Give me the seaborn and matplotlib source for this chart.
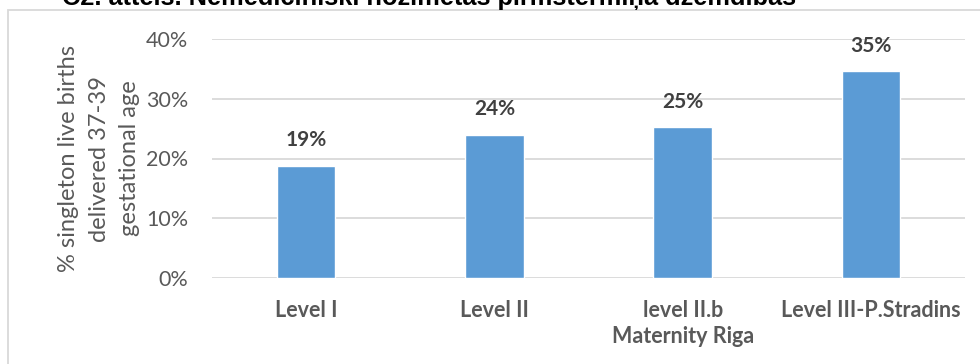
import matplotlib
matplotlib.use("Agg")
import matplotlib.pyplot as plt
import matplotlib.patches as mpatches
from matplotlib.ticker import PercentFormatter
import seaborn as sns
import pandas as pd

# Share of singleton live births delivered at 37-39 weeks, by hospital level
categories = ["Level I", "Level II", "level II.b\nMaternity Riga", "Level III-P.Stradins"]
shares = [18.8, 24.0, 25.2, 34.6]
yticks = [0, 10, 20, 30, 40]

title = "C2. attēls. Nemedicīniski nozīmētas pirmstermiņa dzemdības"
ylabel = "% singleton live births\ndelivered 37-39\ngestational age"

sns.set_theme(style="white")
plt.rcParams["font.family"] = ["Lato", "DejaVu Sans"]

df = pd.DataFrame({"level": categories, "share": shares})

fig = plt.figure(figsize=(9.8, 3.64), dpi=100)
ax = fig.add_axes([212 / 980, 1 - 278 / 364, (965 - 212) / 980, (278 - 39) / 364])

sns.barplot(data=df, x="level", y="share", color="#5B9BD5", width=0.31,
            saturation=1, ax=ax, zorder=3)

ax.set_ylim(0, 40)
ax.set_yticks(yticks)
ax.yaxis.set_major_formatter(PercentFormatter(decimals=0))
ax.grid(axis="y", color="#d9d9d9", linewidth=1.3, zorder=0)
ax.set_axisbelow(True)
for s in ax.spines.values():
    s.set_visible(False)
ax.tick_params(axis="y", length=0, pad=17, labelsize=15.5, labelcolor="#595959")
ax.tick_params(axis="x", length=0, pad=16, labelsize=15.5, labelcolor="#595959")
for t in ax.get_xticklabels():
    t.set_fontweight("bold")
    t.set_linespacing(1.3)

ax.set_xlabel("")
ax.set_ylabel(ylabel, fontsize=17, color="#595959", linespacing=1.55)
ax.yaxis.set_label_coords((140 - 212) / 753, 0.5)

# value labels above each bar
for i, v in enumerate(shares):
    ax.annotate(f"{v:.0f}%", (i, v), xytext=(0, 18.5), textcoords="offset points",
                ha="center", va="center", fontsize=15, fontweight="bold",
                color="#404040")

# chart frame
fig.patches.append(mpatches.Rectangle((8 / 980, -0.1), 1.2, 1 - 10 / 364 + 0.1,
                                      transform=fig.transFigure, fill=False,
                                      edgecolor="#d9d9d9", linewidth=1.3))

fig.text(62 / 980, 1 - 5 / 364, title, fontsize=18.3, fontweight="bold",
         family="Liberation Sans", color="black", ha="left", va="baseline")

fig.savefig("out.png", dpi=100)
